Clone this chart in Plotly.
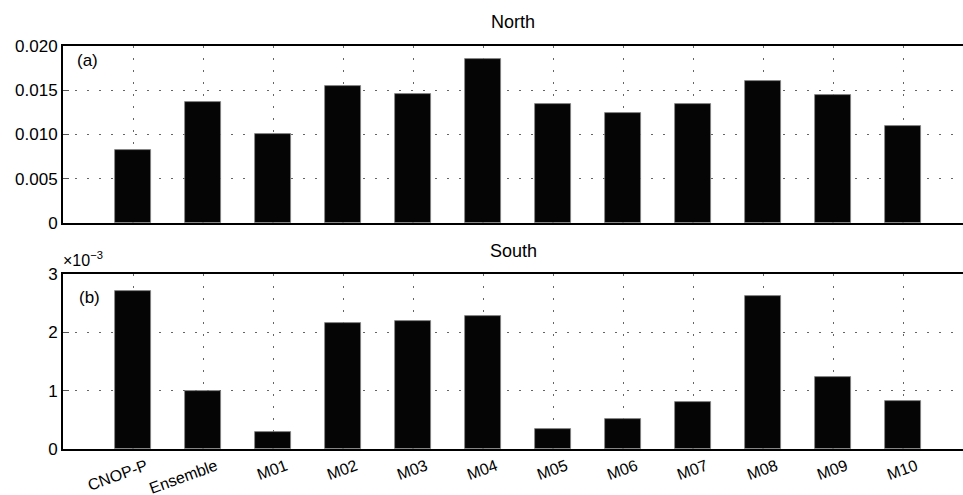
import plotly.graph_objects as go

# Categories (experiments / models)
categories = ["CNOP-P", "Ensemble", "M01", "M02", "M03", "M04",
              "M05", "M06", "M07", "M08", "M09", "M10"]

# Panel (a): North
north_values = [0.00825, 0.0137, 0.0101, 0.0155, 0.0146, 0.0185,
                0.01345, 0.01247, 0.01341, 0.0160, 0.01443, 0.0110]

# Panel (b): South
south_values = [0.00271, 0.00099, 0.00029, 0.00216, 0.00220, 0.00228,
                0.00035, 0.00052, 0.00080, 0.00263, 0.00123, 0.00082]

north_ticks = [0, 0.005, 0.010, 0.015, 0.020]
north_ticktext = ["0", "0.005", "0.010", "0.015", "0.020"]
south_ticks = [0, 0.001, 0.002, 0.003]
south_ticktext = ["0", "1", "2", "3"]

FONT = "Liberation Sans, Arial, Helvetica, sans-serif"
BAR = "#050505"
DOTS = "2px,10px"

fig = go.Figure()
fig.add_trace(go.Bar(x=categories, y=north_values, xaxis="x", yaxis="y",
                     width=0.52, marker=dict(color=BAR, line=dict(color="#888", width=0.8)),
                     showlegend=False))
fig.add_trace(go.Bar(x=categories, y=south_values, xaxis="x2", yaxis="y2",
                     width=0.52, marker=dict(color=BAR, line=dict(color="#888", width=0.8)),
                     showlegend=False))

xcommon = dict(type="category", range=[-1, 11.857], showline=True, linecolor="black",
               linewidth=2, mirror=True, ticks="inside", ticklen=9, tickwidth=1.5,
               tickcolor="#555", showgrid=True, gridcolor="#666", griddash=DOTS,
               gridwidth=1, zeroline=False, categoryorder="array",
               categoryarray=categories, automargin=False, layer="below traces",
               ticklabeloverflow="allow",
               tickfont=dict(family=FONT, size=16, color="black"))
ycommon = dict(showline=True, linecolor="black", linewidth=2, mirror=False,
               ticks="inside", ticklen=6, tickcolor="#555", showgrid=True,
               gridcolor="#666", griddash=DOTS, gridwidth=1, zeroline=False,
               automargin=False,
               tickfont=dict(family=FONT, size=17, color="black"))

fig.update_layout(
    width=963, height=495,
    margin=dict(l=63, r=0, t=46, b=46),
    paper_bgcolor="white", plot_bgcolor="white",
    bargap=0,
    xaxis=dict(xcommon, domain=[0, 1], anchor="y", showticklabels=False),
    yaxis=dict(ycommon, domain=[0.5608, 1], range=[0, 0.020],
               tickvals=north_ticks, ticktext=north_ticktext),
    xaxis2=dict(xcommon, domain=[0, 1], anchor="y2", tickangle=-20,
                ticklabelstandoff=0, ticklabelshift=13),
    yaxis2=dict(ycommon, domain=[0, 0.4342], range=[0, 0.003],
                tickvals=south_ticks, ticktext=south_ticktext),
    annotations=[
        dict(text="North", x=0.5, y=1, xref="paper", yref="paper", yanchor="bottom",
             yshift=12, showarrow=False, font=dict(family=FONT, size=18, color="black")),
        dict(text="South", x=0.5, y=0.4342, xref="paper", yref="paper", yanchor="bottom",
             yshift=11, showarrow=False, font=dict(family=FONT, size=18, color="black")),
        dict(text="(a)", x=0.013, y=0.963, xref="paper", yref="paper",
             xanchor="left", yanchor="middle", showarrow=False,
             font=dict(family=FONT, size=17, color="black")),
        dict(text="(b)", x=0.015, y=0.377, xref="paper", yref="paper",
             xanchor="left", yanchor="middle", showarrow=False,
             font=dict(family=FONT, size=17, color="black")),
        dict(text="×10<sup>−3</sup>", x=-0.002, y=0.4342, xref="paper", yref="paper",
             xanchor="left", yanchor="bottom", yshift=3, showarrow=False,
             font=dict(family=FONT, size=16, color="black")),
    ],
)

fig.write_html("out.html")
